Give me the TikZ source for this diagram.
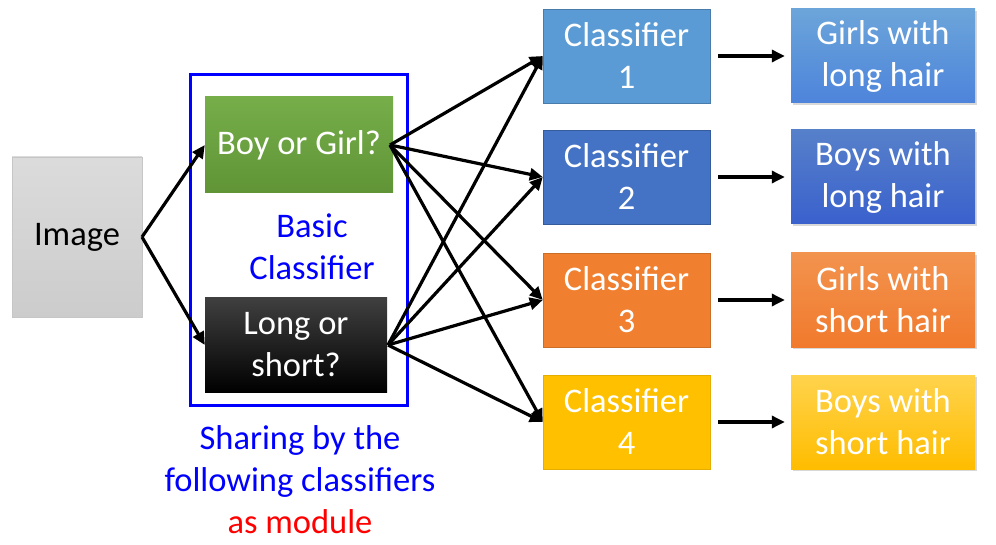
\documentclass[tikz,border=0pt]{standalone}
\usepackage{fontspec}
\setmainfont{Carlito}
\usetikzlibrary{arrows.meta,shadows}
\definecolor{cone}{HTML}{5B9BD5}
\definecolor{ctwo}{HTML}{4472C4}
\definecolor{cthree}{HTML}{F0802F}
\definecolor{cfour}{HTML}{FFC000}
\definecolor{pblue}{HTML}{0000FF}
\definecolor{pred}{HTML}{FF0000}
\tikzset{
  x=1pt,y=-1pt,
  box/.style={inner sep=0pt, align=center, text=white,
    font=\fontsize{34.5}{42}\selectfont},
  clbox/.style={box, minimum width=167pt, minimum height=94pt},
  outbox/.style={box, minimum width=184pt, minimum height=94pt,
    drop shadow={shadow xshift=2pt,shadow yshift=-2pt,opacity=0.3}},
  arr/.style={line width=3.2pt, -{Triangle[length=13pt,width=12pt]}},
  lbl/.style={align=center, font=\fontsize{34.5}{42}\selectfont}
}
\begin{document}
\begin{tikzpicture}
\useasboundingbox (0,0) rectangle (996,545);
\fill[white] (0,0) rectangle (996,545);
% left part
\node[box, text=black, minimum width=130pt, minimum height=160pt,
  top color=gray!28, bottom color=gray!40, draw=gray!45] (img) at (77,237) {Image};
\draw[pblue, line width=3pt] (190,75) rectangle (407,405);
\node[box, minimum width=188pt, minimum height=96pt,
  top color={rgb,255:red,118;green,174;blue,74}, bottom color={rgb,255:red,96;green,148;blue,54}] (bg) at (299,145) {Boy or Girl?};
\node[box, minimum width=182pt, minimum height=95pt,
  top color=black!75, bottom color=black] (ls) at (296,345) {Long or\\short?};
\node[lbl, text=pblue] (basic) at (312,247) {Basic\\Classifier};
\node[lbl, text=pblue, anchor=north] (share) at (300,422) {Sharing by the\\following classifiers\\\textcolor{pred}{as module}};
% classifiers
\node[clbox, fill=cone, draw=cone!80!black] (c1) at (626.5,56) {Classifier\\1};
\node[clbox, fill=ctwo, draw=ctwo!80!black] (c2) at (626.5,177) {Classifier\\2};
\node[clbox, fill=cthree, draw=cthree!85!black] (c3) at (626.5,300) {Classifier\\3};
\node[clbox, fill=cfour, draw=cfour!90!black] (c4) at (626.5,422) {Classifier\\4};
% outputs
\node[outbox, top color=cone!90!white, bottom color=cone!85!blue] (o1) at (883,56) {Girls with\\long hair};
\node[outbox, top color=ctwo!90!white, bottom color=ctwo!85!blue] (o2) at (883,177) {Boys with\\long hair};
\node[outbox, top color=cthree!85!white, bottom color=cthree!95!red] (o3) at (883,300) {Girls with\\short hair};
\node[outbox, top color=cfour!70!white, bottom color=cfour!95!orange] (o4) at (883,422) {Boys with\\short hair};
% connectors
\coordinate (imgout) at (142,237);
\coordinate (bgout) at (390,145);
\coordinate (lsout) at (388,345);
\draw[arr] (imgout) -- (bg.west);
\draw[arr] (imgout) -- (ls.west);
\foreach \c in {c1,c2,c3,c4}{
  \draw[arr] (bgout) -- (\c.west);
  \draw[arr] (lsout) -- (\c.west);
}
\foreach \i in {1,2,3,4}{
  \draw[arr, shorten <=8pt, shorten >=6pt] (c\i.east) -- (o\i.west);
}
\end{tikzpicture}
\end{document}
